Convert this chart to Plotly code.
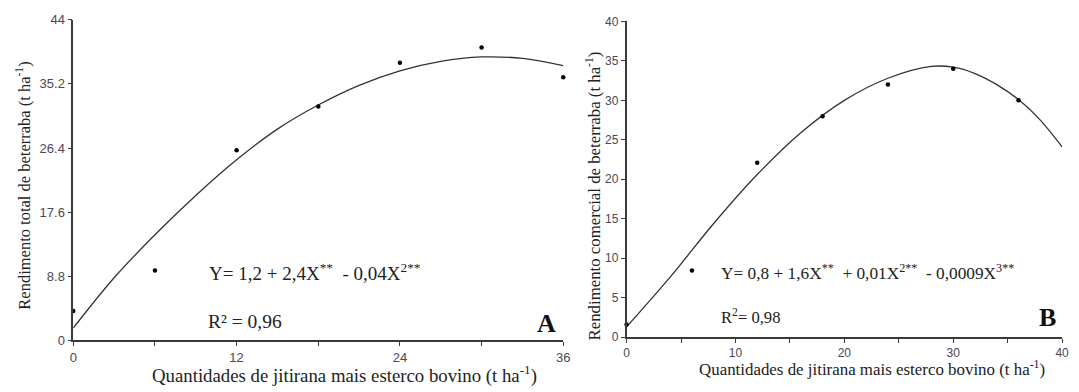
import plotly.graph_objects as go

# ---- Data ----
# Panel A: total yield
a_dose = [0, 6, 12, 18, 24, 30, 36]
a_obs = [4.05, 9.6, 26.1, 32.1, 38.1, 40.2, 36.1]
a_curve_x = [0, 3, 6, 9, 12, 15, 18, 21, 24, 27, 30, 33, 36]
a_curve_y = [1.7, 8.6, 14.5, 19.9, 24.8, 29.0, 32.3, 35.0, 37.0, 38.3, 38.9, 38.7, 37.7]
a_yticks = [0, 8.8, 17.6, 26.4, 35.2, 44]
a_xticks = [0, 12, 24, 36]

# Panel B: commercial yield
b_dose = [0, 6, 12, 18, 24, 30, 36]
b_obs = [1.6, 8.45, 22.1, 28.0, 32.0, 34.0, 30.0]
b_curve_x = [0, 4, 8, 12, 16, 20, 24, 28, 30, 32, 34, 36, 38, 40]
b_curve_y = [1.3, 7.6, 14.4, 20.6, 25.9, 30.0, 32.8, 34.3, 34.2, 33.4, 32.0, 30.1, 27.5, 24.1]
b_yticks = [0, 5, 10, 15, 20, 25, 30, 35, 40]
b_xticks = [0, 10, 20, 30, 40]

W, H = 1079, 392
SERIF = "Liberation Serif, Times New Roman, serif"
SANS = "Liberation Sans, Arial, sans-serif"
TICKC = "#4a4658"
AXC = "#3a3a3a"

def px(x):
    return x / W

def py(y):
    return 1 - y / H

fig = go.Figure()

fig.add_trace(go.Scatter(x=a_curve_x, y=a_curve_y, mode="lines", line=dict(color="#333", width=1.3, shape="spline"),
                         xaxis="x", yaxis="y", cliponaxis=False, showlegend=False))
fig.add_trace(go.Scatter(x=a_dose, y=a_obs, mode="markers", marker=dict(color="black", size=4.5),
                         xaxis="x", yaxis="y", cliponaxis=False, showlegend=False))
fig.add_trace(go.Scatter(x=b_curve_x, y=b_curve_y, mode="lines", line=dict(color="#333", width=1.3, shape="spline"),
                         xaxis="x2", yaxis="y2", cliponaxis=False, showlegend=False))
fig.add_trace(go.Scatter(x=b_dose, y=b_obs, mode="markers", marker=dict(color="black", size=4.5),
                         xaxis="x2", yaxis="y2", cliponaxis=False, showlegend=False))

common = dict(showgrid=False, zeroline=False, showline=True, linecolor=AXC, linewidth=1.5,
              ticks="outside", ticklen=4, tickcolor=AXC, tickwidth=1.2)

fig.update_layout(
    width=W, height=H, margin=dict(l=0, r=0, t=0, b=0),
    paper_bgcolor="white", plot_bgcolor="white", showlegend=False,
    xaxis=dict(domain=[px(70), px(565)], range=[0, 36], tickvals=a_xticks, ticktext=[str(v) for v in a_xticks],
               minor=dict(dtick=6, tick0=0, ticks="outside", ticklen=4, tickcolor=AXC),
               tickfont=dict(family=SANS, size=13, color=TICKC), anchor="y", **common),
    yaxis=dict(domain=[py(346.7), py(13.3)], range=[0, 44], tickvals=a_yticks, ticktext=["0", "8.8", "17.6", "26.4", "35.2", "44"],
               tickfont=dict(family=SANS, size=13, color=TICKC), anchor="x", **common),
    xaxis2=dict(domain=[px(629), px(1069)], range=[0, 40], tickvals=b_xticks, ticktext=[str(v) for v in b_xticks],
                minor=dict(dtick=5, tick0=0, ticks="outside", ticklen=4, tickcolor=AXC),
                tickfont=dict(family=SANS, size=12, color=TICKC), anchor="y2", **common),
    yaxis2=dict(domain=[py(343.3), py(15)], range=[0, 40], tickvals=b_yticks, ticktext=[str(v) for v in b_yticks],
                tickfont=dict(family=SANS, size=12, color=TICKC), anchor="x2", **common),
)

ann = []
def add(text, x, y, size, xanchor="center", angle=0, bold=False, color="#222"):
    t = "<b>%s</b>" % text if bold else text
    ann.append(dict(text=t, x=px(x), y=py(y), xref="paper", yref="paper", showarrow=False,
                    xanchor=xanchor, yanchor="middle", textangle=angle,
                    font=dict(family=SERIF, size=size, color=color)))

add("Rendimento total de beterraba (t ha<sup>-1</sup>)", 20, 186, 16.5, angle=-90)
add("Rendimento comercial de beterraba (t ha<sup>-1</sup>)", 596, 196, 16.8, angle=-90)
add("Quantidades de jitirana mais esterco bovino (t ha<sup>-1</sup>)", 344, 382, 18.8)
add("Quantidades de jitirana mais esterco bovino (t ha<sup>-1</sup>)", 877, 375, 16.9)
add("Y= 1,2 + 2,4X<sup>**</sup>  - 0,04X<sup>2**</sup>", 205, 276, 19, xanchor="left")
add("R² = 0,96", 204, 327, 19.5, xanchor="left")
add("A", 548, 329, 26, bold=True, color="#111")
add("Y= 0,8 + 1,6X<sup>**</sup>  + 0,01X<sup>2**</sup>  - 0,0009X<sup>3**</sup>", 722, 276, 17.3, xanchor="left")
add("R<sup>2</sup>= 0,98", 722, 322, 16.6, xanchor="left")
add("B", 1054, 323, 26, bold=True, color="#111")
fig.update_layout(annotations=ann)

fig.write_html("out.html")
